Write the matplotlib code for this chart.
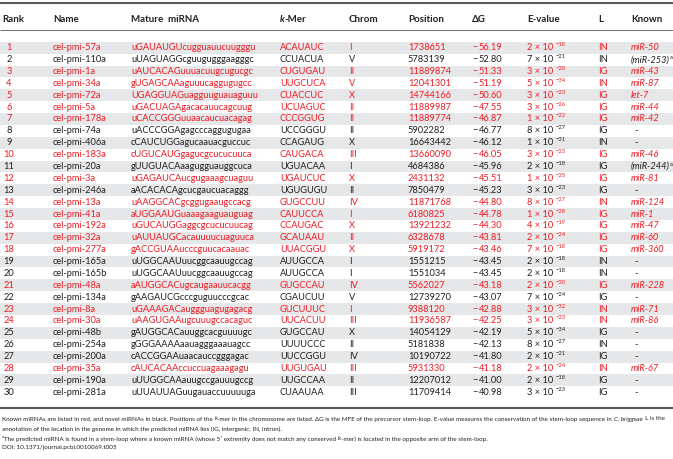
import matplotlib
matplotlib.use("Agg")
import matplotlib.pyplot as plt

# ---- table data ----
ranks = list(range(1, 31))
names = ["cel-pmi-57a", "cel-pmi-110a", "cel-pmi-1a", "cel-pmi-34a", "cel-pmi-72a",
         "cel-pmi-5a", "cel-pmi-178a", "cel-pmi-74a", "cel-pmi-406a", "cel-pmi-183a",
         "cel-pmi-20a", "cel-pmi-3a", "cel-pmi-246a", "cel-pmi-13a", "cel-pmi-41a",
         "cel-pmi-192a", "cel-pmi-32a", "cel-pmi-277a", "cel-pmi-165a", "cel-pmi-165b",
         "cel-pmi-48a", "cel-pmi-134a", "cel-pmi-8a", "cel-pmi-30a", "cel-pmi-48b",
         "cel-pmi-254a", "cel-pmi-200a", "cel-pmi-35a", "cel-pmi-190a", "cel-pmi-281a"]
mature = ["uGAUAUGUcugguauucuugggu", "uUAGUAGGcguugugggaagggc", "uAUCACAGuuuacuugcugucgc",
          "gUGAGCAAaguuucaggugugcc", "UGAGGUAGuagguuguauaguuu", "uGACUAGAgacacauucagcuug",
          "uCACCGGGuuaacaucuacagag", "uACCCGGAgagcccaggugugaa", "cCAUCUGGagucaauacguccuc",
          "cUGUCAUGgagucgcucucuuca", "gUUGUACAaagugguauggcuca", "uGAGAUCAucgugaaagcuaguu",
          "aACACACAgcucgaucuacaggg", "uAAGGCACgcggugaaugccacg", "aUGGAAUGuaaagaaguauguag",
          "uGUCAUGGaggcgcucucuucag", "uAUUAUGCacauuuucuaguuca", "gACCGUAAucccguucacaauac",
          "uUGGCAAUuucggcaauugccag", "uUGGCAAUuucggcaauugccag", "aAUGGCACugcaugaauucacgg",
          "gAAGAUCGcccguguucccgcac", "uGAAAGACauggguagugagacg", "uAAGUGAAugcuuugccacaguc",
          "gAUGGCACauuggcacguuuugc", "gGGGAAAAaauagggaaauagcc", "cACCGGAAuaacauccgggagac",
          "cAUCACAAccuccuagaaagagu", "uUUGGCAAauugccgauuugccg", "uUUAUUAGuugauaccuuuuuga"]
kmers = ["ACAUAUC", "CCUACUA", "CUGUGAU", "UUGCUCA", "CUACCUC", "UCUAGUC", "CCCGGUG",
         "UCCGGGU", "CCAGAUG", "CAUGACA", "UGUACAA", "UGAUCUC", "UGUGUGU", "GUGCCUU",
         "CAUUCCA", "CCAUGAC", "GCAUAAU", "UUACGGU", "AUUGCCA", "AUUGCCA", "GUGCCAU",
         "CGAUCUU", "GUCUUUC", "UUCACUU", "GUGCCAU", "UUUUCCC", "UUCCGGU", "UUGUGAU",
         "UUGCCAA", "CUAAUAA"]
chroms = ["I", "V", "II", "V", "X", "II", "II", "II", "X", "III", "I", "X", "II", "IV", "I",
          "X", "II", "X", "I", "I", "IV", "V", "I", "III", "X", "II", "IV", "III", "II", "III"]
positions = [1738651, 5783139, 11889874, 12041301, 14744166, 11889987, 11889774, 5902282,
             16643442, 13660090, 4684386, 2431132, 7850479, 11871768, 6180825, 13921232,
             6328678, 5919172, 1551215, 1551034, 5562027, 12739270, 9388120, 11936587,
             14054129, 5181838, 10190722, 5931330, 12207012, 11709414]
delta_g = [-56.19, -52.80, -51.33, -51.19, -50.60, -47.55, -46.87, -46.77, -46.12, -46.05,
           -45.96, -45.51, -45.23, -44.80, -44.78, -44.30, -43.81, -43.46, -43.45, -43.45,
           -43.18, -43.07, -42.88, -42.25, -42.19, -42.13, -41.80, -41.18, -41.00, -40.98]
e_mant = [2, 7, 3, 5, 3, 3, 1, 8, 1, 3, 2, 1, 3, 8, 1, 4, 2, 7, 2, 2, 2, 7, 3, 3, 5, 8, 2, 2, 2, 3]
e_exp = [-18, -21, -20, -34, -23, -26, -22, -27, -31, -23, -18, -25, -23, -27, -28, -19, -24,
         -18, -18, -18, -30, -24, -32, -23, -34, -27, -21, -24, -18, -23]
locs = ["IN", "IN", "IG", "IN", "IG", "IG", "IG", "IG", "IN", "IG", "IG", "IG", "IG", "IN", "IG",
        "IG", "IG", "IG", "IN", "IN", "IG", "IG", "IN", "IN", "IG", "IN", "IG", "IN", "IG", "IG"]
known = ["miR-50", "(miR-253)", "miR-43", "miR-87", "let-7", "miR-44", "miR-42", "-", "-",
         "miR-46", "(miR-244)", "miR-81", "-", "miR-124", "miR-1", "miR-47", "miR-60", "miR-360",
         "-", "-", "miR-228", "-", "miR-71", "miR-86", "-", "-", "-", "miR-67", "-", "-"]
footmark = [i in (1, 10) for i in range(30)]
is_known = [k != "-" and not k.startswith("(") for k in known]

RED = "#ED1C24"
BLACK = "#231F20"
GRAY = "#E6E7E8"
RULE = "#58595B"
FONT = "Lato"
FS = 6.7

plt.rcParams["font.family"] = [FONT, "DejaVu Sans"]

fig = plt.figure(figsize=(6.73, 4.59), dpi=100)
ax = fig.add_axes([0, 0, 1, 1])
ax.set_xlim(0, 673)
ax.set_ylim(459, 0)
ax.axis("off")
renderer = fig.canvas.get_renderer()


def text_width(s, **kw):
    t = ax.text(0, 0, s + "|", **kw)
    w1 = t.get_window_extent(renderer).width
    t.remove()
    t = ax.text(0, 0, "|", **kw)
    w2 = t.get_window_extent(renderer).width
    t.remove()
    return w1 - w2


def draw_runs(x, y, runs, **common):
    # draw a list of (text, style, dy) pieces one after another
    for s, style, dy in runs:
        kw = dict(common)
        kw.update(style)
        ax.text(x, y + dy, s, va="center", ha="left", **kw)
        x += text_width(s, **kw)
    return x


# column left edges
col_x = {"name": 53, "mature": 131, "kmer": 280, "chrom": 349, "pos": 408,
         "dg": 472, "e": 527, "L": 598, "known": 631}
rank_cx = 9

# rules
ax.plot([0, 673], [2.5, 2.5], color=RULE, lw=1.5, solid_capstyle="butt")
ax.plot([0, 673], [29.5, 29.5], color=RULE, lw=0.6, solid_capstyle="butt")
ax.plot([0, 673], [407.5, 407.5], color=RULE, lw=1.5, solid_capstyle="butt")

# header
hy = 20
HFS = 7.0
hkw = dict(fontsize=HFS, fontweight="bold", color=BLACK, va="center")
ax.text(2, hy, "Rank", ha="left", **hkw)
ax.text(col_x["name"], hy, "Name", ha="left", **hkw)
ax.text(col_x["mature"], hy, "Mature  miRNA", ha="left", **hkw)
draw_runs(col_x["kmer"], hy, [("k", {"fontstyle": "italic"}, 0), ("-Mer", {}, 0)],
          fontsize=HFS, fontweight="bold", color=BLACK)
ax.text(col_x["chrom"], hy, "Chrom", ha="left", **hkw)
ax.text(col_x["pos"], hy, "Position", ha="left", **hkw)
ax.text(col_x["dg"], hy, "\u0394G", ha="left", **hkw)
ax.text(col_x["e"], hy, "E-value", ha="left", **hkw)
ax.text(col_x["L"], hy, "L", ha="left", **hkw)
ax.text(col_x["known"], hy, "Known", ha="left", **hkw)

# rows
y0 = 47.7
pitch = 11.88
for i in range(30):
    y = y0 + i * pitch
    if i % 2 == 0:
        ax.axhspan(y - pitch / 2, y + pitch / 2, color=GRAY, lw=0, zorder=0)
    c = RED if is_known[i] else BLACK
    kw = dict(fontsize=FS, color=c, va="center")
    ax.text(rank_cx, y, str(ranks[i]), ha="center", **kw)
    ax.text(col_x["name"], y, names[i], ha="left", **kw)
    ax.text(col_x["mature"], y, mature[i], ha="left", **kw)
    ax.text(col_x["kmer"], y, kmers[i], ha="left", **kw)
    ax.text(col_x["chrom"], y, chroms[i], ha="left", **kw)
    ax.text(col_x["pos"], y, str(positions[i]), ha="left", **kw)
    ax.text(col_x["dg"], y, "\u2212", ha="left", **kw)
    ax.text(col_x["dg"] + 7, y, f"{abs(delta_g[i]):.2f}", ha="left", **kw)
    draw_runs(col_x["e"], y, [(f"{e_mant[i]} \u00d7 10 ", {}, 0),
                              ("\u2212" + str(abs(e_exp[i])), {"fontsize": FS * 0.62}, -3.0)],
              fontsize=FS, color=c)
    ax.text(col_x["L"], y, locs[i], ha="left", **kw)
    if known[i] == "-":
        ax.text(col_x["known"] + 3, y, "-", ha="left", **kw)
    else:
        runs = [(known[i], {"fontstyle": "italic"}, 0)]
        if footmark[i]:
            runs.append(("a", {"fontsize": FS * 0.62}, -2.5))
        draw_runs(col_x["known"], y, runs, fontsize=FS, color=c)

# footnotes
fkw = dict(color=BLACK)
line1 = [("Known miRNAs are listed in red, and novel miRNAs in black. Positions of the ", {}, 0),
         ("k", {"fontstyle": "italic"}, 0),
         ("-mer in the chromosome are listed. \u0394G is the MFE of the precursor stem-loop. "
          "E-value measures the conservation of the stem-loop sequence in ", {}, 0),
         ("C. briggsae", {"fontstyle": "italic"}, 0),
         (". L is the", {}, 0)]
# fit first footnote line to the figure width
fs_foot = 5.0
w = sum(text_width(s, fontsize=fs_foot, **st) for s, st, _ in line1)
fs_foot = fs_foot * 668 / w
draw_runs(2, 419, line1, fontsize=fs_foot, **fkw)
draw_runs(2, 429, [("annotation of the location in the genome in which the predicted miRNA lies "
                    "(IG, intergenic; IN, intron).", {}, 0)], fontsize=fs_foot, **fkw)
draw_runs(2, 439, [("a", {"fontsize": fs_foot * 0.65}, -1.5),
                   ("The predicted miRNA is found in a stem-loop where a known miRNA (whose 5\u2032 "
                    "extremity does not match any conserved ", {}, 0),
                   ("k", {"fontstyle": "italic"}, 0),
                   ("-mer) is located in the opposite arm of the stem-loop.", {}, 0)],
          fontsize=fs_foot, **fkw)
draw_runs(2, 448, [("DOI: 10.1371/journal.pcbi.0010069.t005", {}, 0)], fontsize=fs_foot, **fkw)

fig.savefig("out.png", dpi=100)
